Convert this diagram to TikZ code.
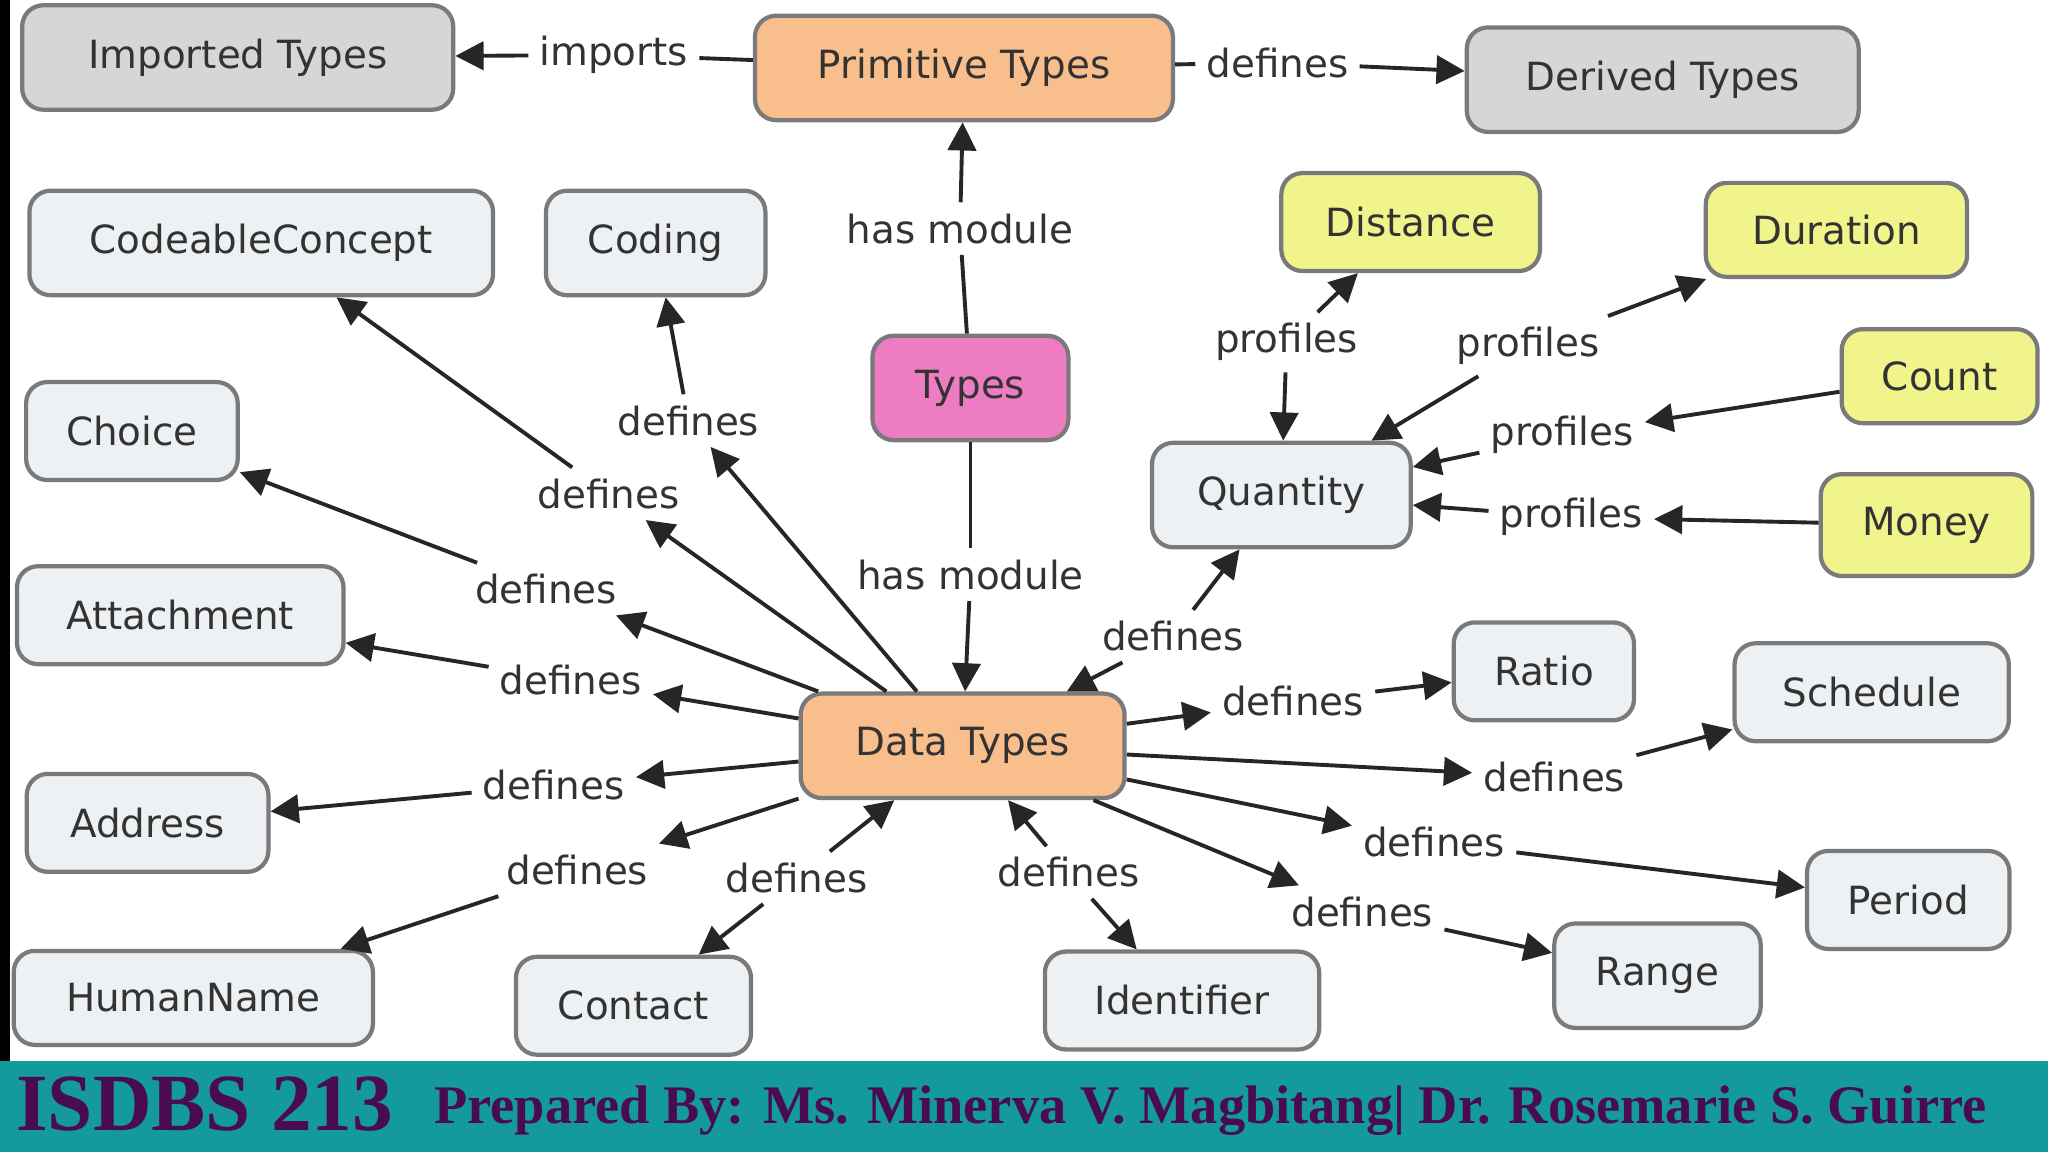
\documentclass[tikz,border=0pt]{standalone}
\usepackage{fontspec}
\setmainfont{DejaVu Sans}
\newfontfamily\footfont{Liberation Serif}
\usetikzlibrary{arrows.meta}
\definecolor{bordc}{HTML}{7A7A7A}
\definecolor{greyf}{HTML}{D6D6D6}
\definecolor{lightf}{HTML}{EEF1F3}
\definecolor{orangef}{HTML}{F8BE8C}
\definecolor{yellowf}{HTML}{F1F48A}
\definecolor{pinkf}{HTML}{EE7CC2}
\definecolor{teal}{HTML}{149A9A}
\definecolor{purp}{HTML}{4A0C50}
\definecolor{txt}{HTML}{333333}
\tikzset{
 box/.style={draw=bordc,line width=1.2pt,rounded corners=6pt,fill=lightf,font=\fontsize{11}{13}\selectfont,text=txt,inner sep=2pt},
 lbl/.style={font=\fontsize{11}{13}\selectfont,text=txt,inner sep=3pt},
 ln/.style={draw=black!85,line width=1.1pt},
 ar/.style={ln,-{Triangle[length=8pt,width=8pt]}},
}
\begin{document}
\begin{tikzpicture}[x=0.37pt,y=-0.37pt]
\useasboundingbox (0,0) rectangle (1568,882);
\fill[white] (0,0) rectangle (1568,882);
\fill[black] (0,0) rectangle (8,812);
% nodes
\node[box,fill=greyf,minimum width={330*0.37pt},minimum height={80*0.37pt}] (imp) at (182,44) {Imported Types};
\node[box,fill=orangef,minimum width={320*0.37pt},minimum height={80*0.37pt}] (prim) at (738,52) {Primitive Types};
\node[box,fill=greyf,minimum width={300*0.37pt},minimum height={80*0.37pt}] (der) at (1273,61) {Derived Types};
\node[box,minimum width={355*0.37pt},minimum height={80*0.37pt}] (cc) at (200,186) {CodeableConcept};
\node[box,minimum width={168*0.37pt},minimum height={80*0.37pt}] (cod) at (502,186) {Coding};
\node[box,fill=yellowf,minimum width={198*0.37pt},minimum height={75*0.37pt}] (dist) at (1080,170) {Distance};
\node[box,fill=yellowf,minimum width={200*0.37pt},minimum height={72*0.37pt}] (dur) at (1406,176) {Duration};
\node[box,fill=pinkf,minimum width={150*0.37pt},minimum height={80*0.37pt}] (types) at (743,297) {Types};
\node[box,minimum width={162*0.37pt},minimum height={75*0.37pt}] (cho) at (101,330) {Choice};
\node[box,fill=yellowf,minimum width={150*0.37pt},minimum height={72*0.37pt}] (cnt) at (1485,288) {Count};
\node[box,minimum width={198*0.37pt},minimum height={80*0.37pt}] (qty) at (981,379) {Quantity};
\node[box,fill=yellowf,minimum width={162*0.37pt},minimum height={78*0.37pt}] (mon) at (1475,402) {Money};
\node[box,minimum width={250*0.37pt},minimum height={75*0.37pt}] (att) at (138,471) {Attachment};
\node[box,minimum width={138*0.37pt},minimum height={75*0.37pt}] (rat) at (1182,514) {Ratio};
\node[box,minimum width={210*0.37pt},minimum height={75*0.37pt}] (sch) at (1433,530) {Schedule};
\node[box,fill=orangef,minimum width={248*0.37pt},minimum height={80*0.37pt}] (dt) at (737,571) {Data Types};
\node[box,minimum width={185*0.37pt},minimum height={75*0.37pt}] (adr) at (113,630) {Address};
\node[box,minimum width={155*0.37pt},minimum height={75*0.37pt}] (per) at (1461,689) {Period};
\node[box,minimum width={275*0.37pt},minimum height={72*0.37pt}] (hum) at (148,764) {HumanName};
\node[box,minimum width={180*0.37pt},minimum height={75*0.37pt}] (con) at (485,770) {Contact};
\node[box,minimum width={210*0.37pt},minimum height={75*0.37pt}] (ide) at (905,766) {Identifier};
\node[box,minimum width={158*0.37pt},minimum height={80*0.37pt}] (rng) at (1269,747) {Range};
% labels
\node[lbl] (limp) at (470,42) {imports};
\node[lbl] (lder) at (978,48) {defines};
\node[lbl] (lhm1) at (735,175) {has module};
\node[lbl] (lhm2) at (743,440) {has module};
\node[lbl] (lp1) at (985,262) {profiles};
\node[lbl] (lp2) at (1170,265) {profiles};
\node[lbl] (lp3) at (1196,333) {profiles};
\node[lbl] (lp4) at (1203,396) {profiles};
\node[lbl] (lq) at (898,487) {defines};
\node[lbl] (lcod) at (527,322) {defines};
\node[lbl] (lcc) at (466,378) {defines};
\node[lbl] (lcho) at (418,451) {defines};
\node[lbl] (latt) at (437,521) {defines};
\node[lbl] (ladr) at (424,601) {defines};
\node[lbl] (lhum) at (442,666) {defines};
\node[lbl] (lcon) at (610,672) {defines};
\node[lbl] (lide) at (818,668) {defines};
\node[lbl] (lrat) at (990,537) {defines};
\node[lbl] (lsch) at (1190,595) {defines};
\node[lbl] (lper) at (1098,645) {defines};
\node[lbl] (lrng) at (1043,698) {defines};
% connectors
\draw[ln] (prim) -- (limp); \draw[ar] (limp) -- (imp);
\draw[ln] (prim) -- (lder); \draw[ar] (lder) -- (der);
\draw[ln] (types) -- (lhm1); \draw[ar] (lhm1) -- (prim);
\draw[ln] (types) -- (lhm2); \draw[ar] (lhm2) -- (dt);
\draw[ar] (lp1) -- (dist); \draw[ar] (lp1) -- (qty);
\draw[ar] (lp2) -- (dur); \draw[ar] (lp2) -- (qty);
\draw[ar] (cnt) -- (lp3); \draw[ar] (lp3) -- (qty);
\draw[ar] (mon) -- (lp4); \draw[ar] (lp4) -- (qty);
\draw[ar] (lq) -- (qty); \draw[ar] (lq) -- (dt);
\foreach \l/\t in {lcod/cod,lcc/cc,lcho/cho,latt/att,ladr/adr,lhum/hum}{
  \draw[ar] (dt) -- (\l); \draw[ar] (\l) -- (\t);}
\foreach \l/\t in {lrat/rat,lsch/sch,lper/per,lrng/rng}{
  \draw[ar] (dt) -- (\l); \draw[ar] (\l) -- (\t);}
\draw[ar] (lcon) -- (dt); \draw[ar] (lcon) -- (con);
\draw[ar] (lide) -- (dt); \draw[ar] (lide) -- (ide);
% footer
\fill[teal] (0,812) rectangle (1568,882);
\node[anchor=west,inner sep=0pt,text=purp,font=\footfont\bfseries\fontsize{23}{26}\selectfont] (f1) at (12,845) {ISDBS 213};
\node[anchor=west,inner sep=0pt,text=purp,font=\footfont\bfseries\fontsize{15.4}{17}\selectfont] (f2) at (332,850) {Prepared By: Ms. Minerva V. Magbitang| Dr. Rosemarie S. Guirre};
\end{tikzpicture}
\end{document}
